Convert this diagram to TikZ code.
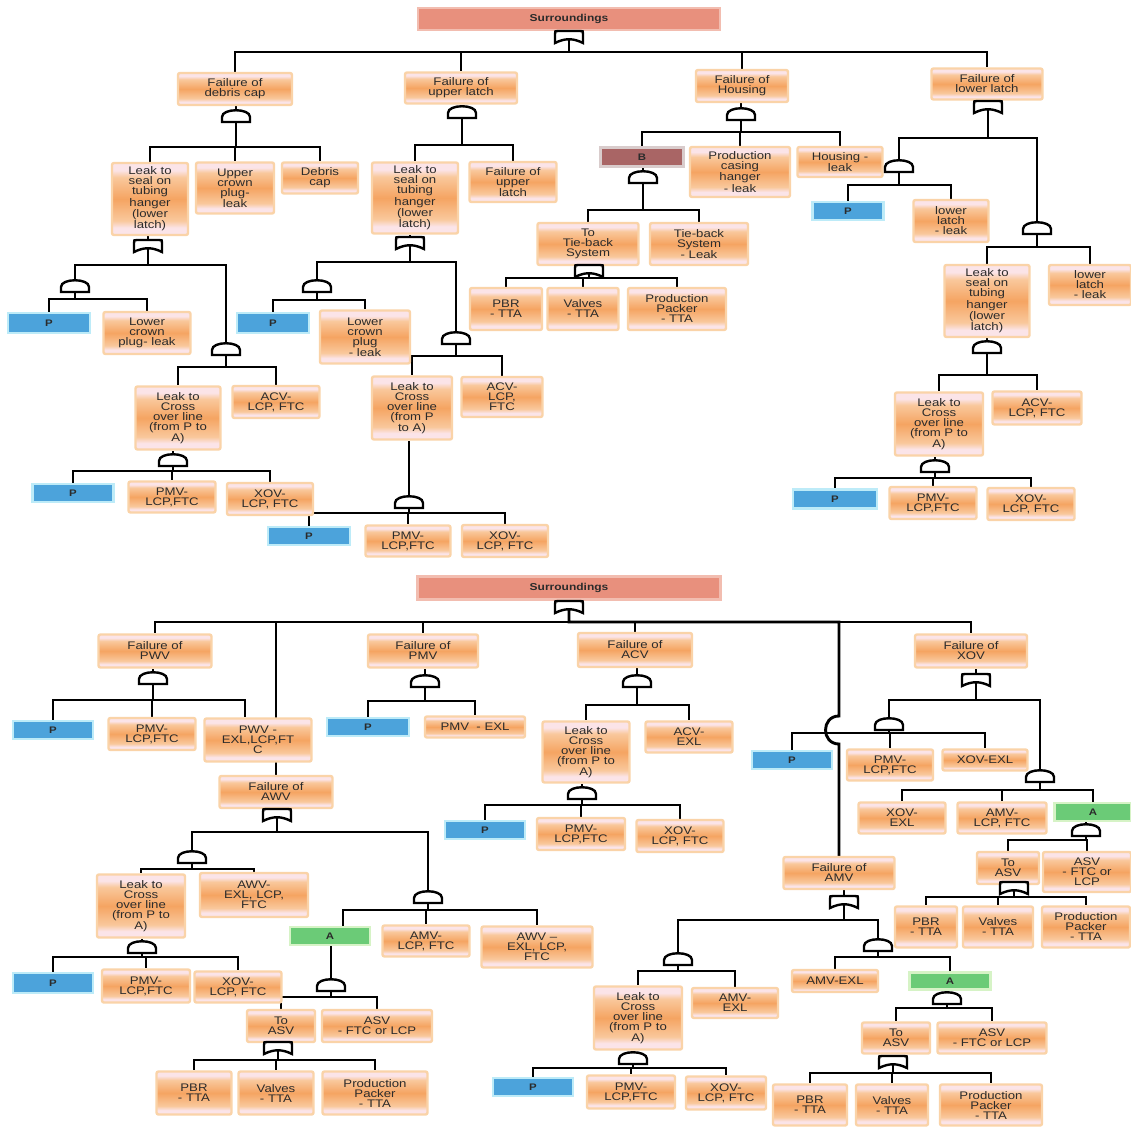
\documentclass[tikz,border=0pt]{standalone}
\usepackage{fontspec}
\newfontfamily\bx[FakeStretch=1.2]{Liberation Sans}
\usetikzlibrary{calc}
\pgfdeclarelayer{background}
\pgfdeclarelayer{paper}
\pgfsetlayers{paper,background,main}
\definecolor{pinkl}{HTML}{FBE4E8}
\definecolor{orl}{HTML}{F9C89C}
\definecolor{orm}{HTML}{F5A462}
\definecolor{oedge}{HTML}{FAD3A8}
\definecolor{txt}{HTML}{2B2B2B}
\definecolor{pblue}{HTML}{4CA3DB}
\definecolor{pglow}{HTML}{BDEBF8}
\definecolor{agreen}{HTML}{6BCB77}
\definecolor{aglow}{HTML}{D6F3C6}
\definecolor{bbrown}{HTML}{A96565}
\definecolor{bglow}{HTML}{D9CCCC}
\definecolor{sfill}{HTML}{E8907D}
\definecolor{sglow}{HTML}{F2BDB0}
\pgfdeclareverticalshading{boxshade}{100bp}{color(0bp)=(pinkl); color(25bp)=(pinkl); color(30bp)=(pinkl); color(35bp)=(orl); color(50bp)=(orm); color(65bp)=(orl); color(70bp)=(pinkl); color(75bp)=(pinkl); color(100bp)=(pinkl)}
\tikzset{
  conn/.style={line width=2.9pt, draw=black},
  gate/.style={line width=2.4pt, draw=black, fill=white},
  ob/.style 2 args={shade, shading=boxshade, draw=oedge, line width=2.4pt, rounded corners=2pt,
    minimum width=#1pt, minimum height=#2pt, inner sep=1pt, align=center,
    font=\bx\fontsize{11}{10}\selectfont, text=txt},
  pb/.style 2 args={fill=pblue, draw=pglow, line width=2.6pt, minimum width=#1pt, minimum height=#2pt,
    inner sep=0pt, font=\bx\bfseries\fontsize{9.5}{10}\selectfont, text=txt},
  gb/.style 2 args={pb={#1}{#2}, fill=agreen, draw=aglow},
  bb/.style 2 args={pb={#1}{#2}, fill=bbrown, draw=bglow},
  sb/.style 2 args={pb={#1}{#2}, fill=sfill, draw=sglow, font=\bx\bfseries\fontsize{10}{11}\selectfont},
  andgate/.pic={
    \draw[gate] (-14,6) -- (-14,1) .. controls (-14,-8) and (14,-8) .. (14,1) -- (14,6) -- cycle;
    \coordinate (-in) at (0,-5.5);
    \coordinate (-out) at (0,6);
  },
  orgate/.pic={
    \draw[gate] (-14,6) -- (-14,-3) .. controls (-14,-6) .. (-11,-6) -- (11,-6) .. controls (14,-6) .. (14,-3) -- (14,6) .. controls (4,1) and (-4,1) .. (-14,6) -- cycle;
    \coordinate (-in) at (0,-6);
    \coordinate (-out) at (0,2.3);
  }
}
\newcommand\fork[3]{\foreach \kid in {#3}{\draw[conn] (#1-out) -- (#1-out |- 0,#2) -| (\kid);}}
\newcommand\feed[2]{\draw[conn] (#2-in) -- (#2-in |- #1.south);}
\begin{document}
\begin{tikzpicture}[x=1pt,y=-1pt]
\begin{pgfonlayer}{paper}
\fill[white] (0,0) rectangle (1131,1126);
\end{pgfonlayer}
\useasboundingbox (0,0) rectangle (1131,1126);

% ================= TOP TREE =================
\node[sb={302}{22}] (s1) at (569,19) {Surroundings};
\pic (g0) at (569,37) {orgate};
\node[ob={114}{32}] (t1) at (235,89) {Failure of\\debris cap};
\node[ob={112}{31}] (t2) at (461,88) {Failure of\\upper latch};
\node[ob={92}{32}] (t3) at (742,86) {Failure of\\Housing};
\node[ob={111}{31}] (t4) at (987,84) {Failure of\\lower latch};

% branch t1
\pic (g1) at (236,116) {andgate};
\node[ob={76}{72}] (t11) at (150,199) {Leak to\\seal on\\tubing\\hanger\\(lower\\latch)};
\node[ob={78}{51}] (t12) at (235,188) {Upper\\crown\\plug-\\leak};
\node[ob={76}{31}] (t13) at (320,178) {Debris\\cap};
\pic (g11) at (148,246) {orgate};
\pic (g111) at (75,286) {andgate};
\pic (g112) at (226,349) {andgate};
\node[pb={82}{20}] (p1) at (49,323) {P};
\node[ob={87}{42}] (t111) at (147,333) {Lower\\crown\\plug- leak};
\node[ob={85}{63}] (t121) at (178,418) {Leak to\\Cross\\over line\\(from P to\\A)};
\node[ob={87}{32}] (t122) at (276,402) {ACV-\\LCP, FTC};
\pic (g113) at (173,460) {andgate};
\node[pb={81}{18}] (p2) at (73,493) {P};
\node[ob={87}{31}] (t131) at (172,497) {PMV-\\LCP,FTC};
\node[ob={86}{32}] (t132) at (270,499) {XOV-\\LCP, FTC};

% branch t2
\pic (g2) at (462,112) {andgate};
\node[ob={86}{71}] (t21) at (415,198) {Leak to\\seal on\\tubing\\hanger\\(lower\\latch)};
\node[ob={87}{40}] (t22) at (513,182) {Failure of\\upper\\latch};
\pic (g21) at (410,243) {orgate};
\pic (g211) at (317,286) {andgate};
\pic (g212) at (456,338) {andgate};
\node[pb={72}{20}] (p3) at (273,323) {P};
\node[ob={90}{53}] (t211) at (365,337) {Lower\\crown\\plug\\- leak};
\node[ob={80}{63}] (t221) at (412,408) {Leak to\\Cross\\over line\\(from P\\to A)};
\node[ob={81}{40}] (t222) at (502,397) {ACV-\\LCP,\\FTC};
\pic (g213) at (409,502) {andgate};
\node[pb={82}{18}] (p4) at (309,536) {P};
\node[ob={85}{31}] (t231) at (408,541) {PMV-\\LCP,FTC};
\node[ob={86}{32}] (t232) at (505,541) {XOV-\\LCP, FTC};

% branch t3
\pic (g3) at (741,114) {andgate};
\node[bb={83}{19}] (b1) at (642,157) {B};
\node[ob={100}{50}] (t31) at (740,172) {Production\\casing\\hanger\\- leak};
\node[ob={85}{30}] (t32) at (840,162) {Housing -\\leak};
\pic (g31) at (643,177) {andgate};
\node[ob={101}{42}] (t311) at (588,244) {To\\Tie-back\\System};
\node[ob={98}{42}] (t312) at (699,244) {Tie-back\\System\\- Leak};
\pic (g311) at (589,271) {orgate};
\node[ob={72}{42}] (t3111) at (506,309) {PBR\\- TTA};
\node[ob={71}{42}] (t3112) at (583,309) {Valves\\- TTA};
\node[ob={98}{42}] (t3113) at (677,309) {Production\\Packer\\- TTA};

% branch t4
\pic (g4) at (988,107) {orgate};
\pic (g41) at (899,166) {andgate};
\pic (g42) at (1037,228) {andgate};
\node[pb={71}{18}] (p5) at (848,211) {P};
\node[ob={75}{42}] (t411) at (951,221) {lower\\latch\\- leak};
\node[ob={85}{72}] (t421) at (987,301) {Leak to\\seal on\\tubing\\hanger\\(lower\\latch)};
\node[ob={82}{40}] (t422) at (1090,285) {lower\\latch\\- leak};
\pic (g43) at (987,347) {andgate};
\node[ob={88}{63}] (t431) at (939,424) {Leak to\\Cross\\over line\\(from P to\\A)};
\node[ob={89}{33}] (t432) at (1037,408) {ACV-\\LCP, FTC};
\pic (g44) at (935,466) {andgate};
\node[pb={84}{19}] (p6) at (835,499) {P};
\node[ob={87}{32}] (t441) at (933,503) {PMV-\\LCP,FTC};
\node[ob={87}{32}] (t442) at (1031,504) {XOV-\\LCP, FTC};

% ================= BOTTOM TREE =================
\node[sb={303}{23}] (s2) at (569,588) {Surroundings};
\pic (h0) at (569,607) {orgate};
\node[ob={113}{33}] (u1) at (155,651) {Failure of\\PWV};
\node[ob={110}{33}] (u2) at (423,651) {Failure of\\PMV};
\node[ob={114}{34}] (u3) at (635,650) {Failure of\\ACV};
\node[ob={112}{33}] (u4) at (971,651) {Failure of\\XOV};
\node[ob={113}{32}] (u5) at (276,792) {Failure of\\AWV};
\node[ob={111}{32}] (u6) at (839,873) {Failure of\\AMV};

% PWV
\pic (h1) at (153,678) {andgate};
\node[pb={80}{18}] (p7) at (53,730) {P};
\node[ob={87}{32}] (u11) at (152,734) {PMV-\\LCP,FTC};
\node[ob={107}{43}] (u12) at (258,740) {PWV -\\EXL,LCP,FT\\C};
\coordinate (u12d) at ($(u12.north)+(-13,0)$);

% AWV
\pic (h5) at (277,815) {orgate};
\pic (h51) at (192,857) {andgate};
\pic (h52) at (428,897) {andgate};
\node[ob={88}{63}] (u511) at (141,906) {Leak to\\Cross\\over line\\(from P to\\A)};
\node[ob={108}{44}] (u512) at (254,895) {AWV-\\EXL, LCP,\\FTC};
\pic (h53) at (142,947) {andgate};
\node[pb={80}{20}] (p8) at (53,983) {P};
\node[ob={88}{33}] (u531) at (146,986) {PMV-\\LCP,FTC};
\node[ob={87}{31}] (u532) at (238,987) {XOV-\\LCP, FTC};
\node[gb={80}{18}] (a1) at (330,936) {A};
\coordinate (a1d) at ($(a1.north)+(13,0)$);
\node[ob={87}{31}] (u521) at (426,941) {AMV-\\LCP, FTC};
\node[ob={111}{41}] (u522) at (537,947) {AWV –\\EXL, LCP,\\FTC};
\pic (h54) at (331,985) {andgate};
\node[ob={68}{32}] (u541) at (281,1026) {To\\ASV};
\node[ob={110}{32}] (u542) at (377,1026) {ASV\\- FTC or LCP};
\pic (h55) at (278,1048) {orgate};
\node[ob={75}{43}] (u551) at (194,1093) {PBR\\- TTA};
\node[ob={75}{43}] (u552) at (276,1093) {Valves\\- TTA};
\node[ob={105}{43}] (u553) at (375,1093) {Production\\Packer\\- TTA};

% PMV
\pic (h2) at (425,681) {andgate};
\node[pb={82}{18}] (p9) at (368,727) {P};
\node[ob={100}{21}] (u21) at (475,727) {PMV \ - EXL};

% ACV
\pic (h3) at (637,681) {andgate};
\node[ob={87}{61}] (u31) at (586,752) {Leak to\\Cross\\over line\\(from P to\\A)};
\node[ob={87}{31}] (u32) at (689,737) {ACV-\\EXL};
\pic (h31) at (582,793) {andgate};
\node[pb={80}{18}] (p10) at (485,830) {P};
\node[ob={88}{32}] (u311) at (581,834) {PMV-\\LCP,FTC};
\node[ob={87}{32}] (u312) at (680,836) {XOV-\\LCP, FTC};

% XOV
\pic (h4) at (976,680) {orgate};
\pic (h41) at (889,724) {andgate};
\pic (h42) at (1040,776) {andgate};
\node[pb={80}{18}] (p11) at (792,760) {P};
\node[ob={86}{31}] (u411) at (890,765) {PMV-\\LCP,FTC};
\node[ob={85}{21}] (u412) at (985,760) {XOV-EXL};
\node[ob={87}{31}] (u421) at (902,818) {XOV-\\EXL};
\node[ob={89}{31}] (u422) at (1002,818) {AMV-\\LCP, FTC};
\node[gb={77}{18}] (a2) at (1093,812) {A};
\pic (h43) at (1086,830) {andgate};
\node[ob={62}{32}] (u431) at (1008,868) {To\\ASV};
\node[ob={88}{40}] (u432) at (1087,872) {ASV\\- FTC or\\LCP};
\pic (h44) at (1014,888) {orgate};
\node[ob={62}{41}] (u441) at (926,927) {PBR\\- TTA};
\node[ob={70}{41}] (u442) at (998,927) {Valves\\- TTA};
\node[ob={88}{41}] (u443) at (1086,927) {Production\\Packer\\- TTA};

% AMV
\pic (h6) at (844,902) {orgate};
\pic (h61) at (678,959) {andgate};
\pic (h62) at (878,945) {andgate};
\node[ob={88}{63}] (u611) at (638,1018) {Leak to\\Cross\\over line\\(from P to\\A)};
\node[ob={86}{30}] (u612) at (735,1003) {AMV-\\EXL};
\pic (h63) at (633,1058) {andgate};
\node[pb={80}{18}] (p12) at (533,1087) {P};
\node[ob={88}{33}] (u631) at (631,1092) {PMV-\\LCP,FTC};
\node[ob={80}{33}] (u632) at (726,1093) {XOV-\\LCP, FTC};
\node[ob={86}{22}] (u621) at (835,981) {AMV-EXL};
\node[gb={81}{17}] (a3) at (950,981) {A};
\pic (h64) at (947,998) {andgate};
\node[ob={68}{31}] (u641) at (896,1038) {To\\ASV};
\node[ob={109}{31}] (u642) at (992,1038) {ASV\\- FTC or LCP};
\pic (h65) at (893,1062) {orgate};
\node[ob={74}{41}] (u651) at (810,1105) {PBR\\- TTA};
\node[ob={72}{41}] (u652) at (892,1105) {Valves\\- TTA};
\node[ob={102}{41}] (u653) at (991,1105) {Production\\Packer\\- TTA};

\coordinate (hopA) at (839,716);
\coordinate (hopB) at (839,744);

% ================= CONNECTORS =================
\begin{pgfonlayer}{background}
% top tree
\feed{s1}{g0}
\fork{g0}{52}{t1.north,t2.north,t3.north,t4.north}
\feed{t1}{g1}
\fork{g1}{147}{t11.north,t12.north,t13.north}
\feed{t11}{g11}
\fork{g11}{265}{g111-in,g112-in}
\fork{g111}{299}{p1.north,t111.north}
\fork{g112}{367}{t121.north,t122.north}
\feed{t121}{g113}
\fork{g113}{471}{p2.north,t131.north,t132.north}
\feed{t2}{g2}
\fork{g2}{145}{t21.north,t22.north}
\feed{t21}{g21}
\fork{g21}{262}{g211-in,g212-in}
\fork{g211}{300}{p3.north,t211.north}
\fork{g212}{356}{t221.north,t222.north}
\feed{t221}{g213}
\fork{g213}{513}{p4.north,t231.north,t232.north}
\feed{t3}{g3}
\fork{g3}{132}{b1.north,t31.north,t32.north}
\feed{b1}{g31}
\fork{g31}{210}{t311.north,t312.north}
\feed{t311}{g311}
\fork{g311}{278}{t3111.north,t3112.north,t3113.north}
\feed{t4}{g4}
\fork{g4}{138}{g41-in,g42-in}
\fork{g41}{185}{p5.north,t411.north}
\fork{g42}{247}{t421.north,t422.north}
\feed{t421}{g43}
\fork{g43}{375}{t431.north,t432.north}
\feed{t431}{g44}
\fork{g44}{478}{p6.north,t441.north,t442.north}
% bottom tree
\feed{s2}{h0}
\fork{h0}{622}{u1.north,u5.north,u2.north,u3.north,u4.north}
\draw[conn] (h0-out) -- (h0-out |- 0,622) -| (hopA) .. controls (821,716) and (821,744) .. (hopB) -- (u6.north);
\feed{u1}{h1}
\fork{h1}{700}{p7.north,u11.north,u12d}
\feed{u5}{h5}
\fork{h5}{832}{h51-in,h52-in}
\fork{h51}{869}{u511.north,u512.north}
\feed{u511}{h53}
\fork{h53}{957}{p8.north,u531.north,u532.north}
\fork{h52}{910}{a1d,u521.north,u522.north}
\feed{a1}{h54}
\fork{h54}{997}{u541.north,u542.north}
\feed{u541}{h55}
\fork{h55}{1060}{u551.north,u552.north,u553.north}
\feed{u2}{h2}
\fork{h2}{701}{p9.north,u21.north}
\feed{u3}{h3}
\fork{h3}{705}{u31.north,u32.north}
\feed{u31}{h31}
\fork{h31}{805}{p10.north,u311.north,u312.north}
\feed{u4}{h4}
\fork{h4}{700}{h41-in,h42-in}
\fork{h41}{733}{p11.north,u411.north,u412.north}
\fork{h42}{790}{u421.north,u422.north,a2.north}
\feed{a2}{h43}
\fork{h43}{840}{u431.north,u432.north}
\feed{u431}{h44}
\fork{h44}{897}{u441.north,u442.north,u443.north}
\feed{u6}{h6}
\fork{h6}{920}{h61-in,h62-in}
\fork{h61}{971}{u611.north,u612.north}
\feed{u611}{h63}
\fork{h63}{1068}{p12.north,u631.north,u632.north}
\fork{h62}{957}{u621.north,a3.north}
\feed{a3}{h64}
\fork{h64}{1008}{u641.north,u642.north}
\feed{u641}{h65}
\fork{h65}{1073}{u651.north,u652.north,u653.north}
\end{pgfonlayer}
\end{tikzpicture}
\end{document}
